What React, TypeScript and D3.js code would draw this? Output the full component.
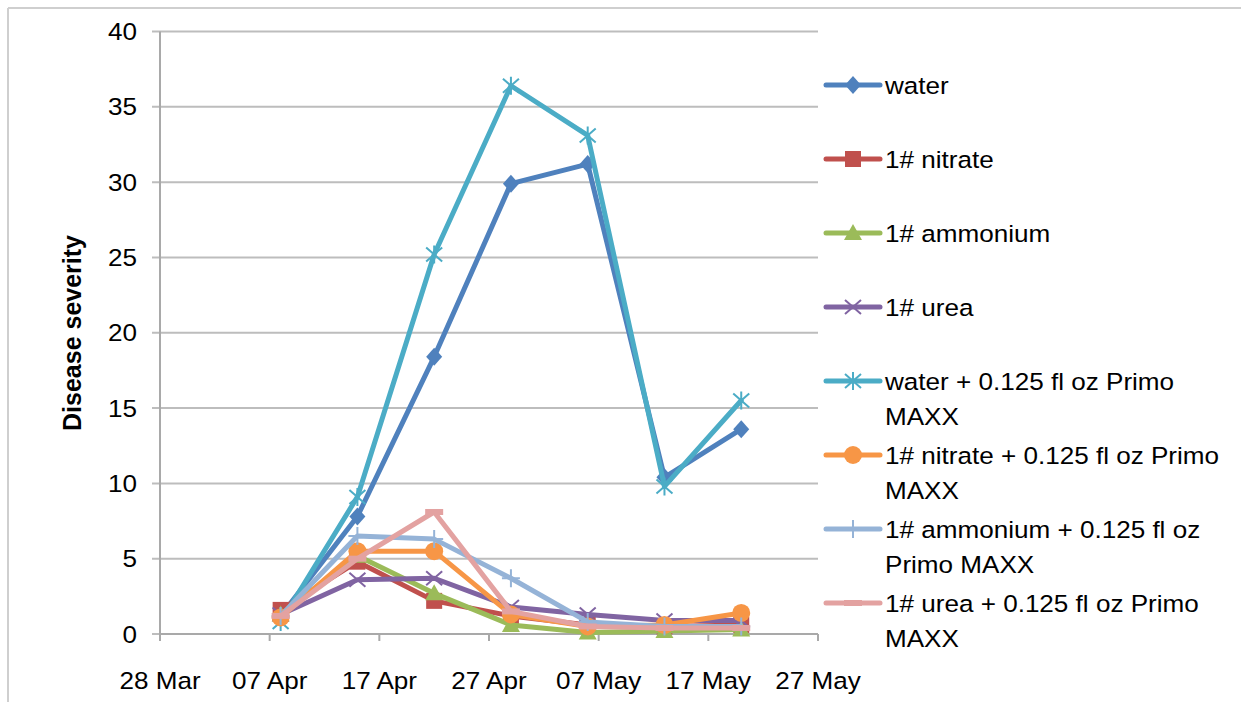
import React from "react";
import * as d3 from "d3";

const tickLabels = ["28 Mar", "07 Apr", "17 Apr", "27 Apr", "07 May", "17 May", "27 May"];
const tickDates = ["2013-03-28", "2013-04-07", "2013-04-17", "2013-04-27", "2013-05-07", "2013-05-17", "2013-05-27"];
const sampleDates = ["2013-04-08", "2013-04-15", "2013-04-22", "2013-04-29", "2013-05-06", "2013-05-13", "2013-05-20"];
const yTicks = [0, 5, 10, 15, 20, 25, 30, 35, 40];

const seriesNames = [
  "water",
  "1# nitrate",
  "1# ammonium",
  "1# urea",
  "water + 0.125 fl oz Primo MAXX",
  "1# nitrate + 0.125 fl oz Primo MAXX",
  "1# ammonium + 0.125 fl oz Primo MAXX",
  "1# urea + 0.125 fl oz Primo MAXX",
];
const legendLines = [
  ["water"],
  ["1# nitrate"],
  ["1# ammonium"],
  ["1# urea"],
  ["water + 0.125 fl oz Primo", "MAXX"],
  ["1# nitrate + 0.125 fl oz Primo", "MAXX"],
  ["1# ammonium + 0.125 fl oz", "Primo MAXX"],
  ["1# urea + 0.125 fl oz Primo", "MAXX"],
];
const water = [1.2, 7.8, 18.4, 29.9, 31.2, 10.4, 13.6];
const nitrate = [1.6, 4.8, 2.2, 1.2, 0.6, 0.5, 0.6];
const ammonium = [1.3, 5.2, 2.7, 0.6, 0.1, 0.2, 0.3];
const urea = [1.3, 3.6, 3.7, 1.8, 1.3, 0.9, 0.9];
const waterPrimo = [0.8, 9.1, 25.2, 36.4, 33.1, 9.8, 15.5];
const nitratePrimo = [1.1, 5.5, 5.5, 1.3, 0.5, 0.6, 1.4];
const ammoniumPrimo = [1.2, 6.5, 6.3, 3.7, 0.8, 0.5, 0.5];
const ureaPrimo = [1.2, 5.0, 8.1, 1.5, 0.5, 0.4, 0.4];
const seriesValues = [water, nitrate, ammonium, urea, waterPrimo, nitratePrimo, ammoniumPrimo, ureaPrimo];
const colors = ["#4F81BD", "#C0504D", "#9BBB59", "#8064A2", "#4BACC6", "#F79646", "#95B3D7", "#E3A2A1"];
const markers = ["diamond", "square", "triangle", "x", "star", "circle", "plus", "dash"];

const parse = d3.timeParse("%Y-%m-%d");
const FONT = "'Liberation Sans', Arial, Helvetica, sans-serif";
const FS = 23.5;
const SX = 1.11;

function Txt({ x, y, anchor = "start", children, size = FS, weight = "normal" }: any) {
  return (
    <text
      transform={`translate(${x},${y}) scale(${SX},1)`}
      textAnchor={anchor}
      fontFamily={FONT}
      fontSize={size}
      fontWeight={weight}
      fill="#000"
    >
      {children}
    </text>
  );
}

function Marker({ type, x, y, color }: any) {
  switch (type) {
    case "diamond":
      return <path d={`M${x},${y - 9}L${x + 8},${y}L${x},${y + 9}L${x - 8},${y}Z`} fill={color} />;
    case "square":
      return <rect x={x - 8} y={y - 8} width={16} height={16} fill={color} />;
    case "triangle":
      return <path d={`M${x},${y - 9}L${x + 9},${y + 7}L${x - 9},${y + 7}Z`} fill={color} />;
    case "x":
      return (
        <path d={`M${x - 8},${y - 7}L${x + 8},${y + 7}M${x - 8},${y + 7}L${x + 8},${y - 7}`} stroke={color} strokeWidth={2} fill="none" />
      );
    case "star":
      return (
        <path
          d={`M${x - 8},${y - 7}L${x + 8},${y + 7}M${x - 8},${y + 7}L${x + 8},${y - 7}M${x},${y - 9}L${x},${y + 9}`}
          stroke={color}
          strokeWidth={2}
          fill="none"
        />
      );
    case "circle":
      return <circle cx={x} cy={y} r={9} fill={color} />;
    case "plus":
      return <path d={`M${x - 9},${y}L${x + 9},${y}M${x},${y - 9}L${x},${y + 9}`} stroke={color} strokeWidth={2} fill="none" />;
    case "dash":
      return <rect x={x - 9} y={y - 3} width={18} height={6} fill={color} />;
    default:
      return null;
  }
}

export default function App() {
  const x = d3.scaleTime().domain([parse(tickDates[0])!, parse(tickDates[tickDates.length - 1])!]).range([160, 818]);
  const y = d3.scaleLinear().domain([0, 40]).range([634, 31.5]);
  const dates = sampleDates.map((d) => parse(d)!);
  const line = d3
    .line<number>()
    .x((_, i) => x(dates[i]))
    .y((v) => y(v));

  const legendX = 826;
  const legendY0 = 85;
  const legendStep = 74;

  return (
    <svg width={1241} height={702} style={{ position: "absolute", left: 0, top: 0, background: "#fff" }}>
      <rect x={0} y={0} width={1241} height={702} fill="#fff" />
      {/* chart frame */}
      <line x1={8} y1={8} x2={1241} y2={8} stroke="#cfcfcf" strokeWidth={2} />
      <line x1={8} y1={8} x2={8} y2={702} stroke="#cfcfcf" strokeWidth={2} />

      {/* gridlines */}
      {yTicks.map((t) => (
        <line key={`g${t}`} x1={152} x2={818} y1={y(t)} y2={y(t)} stroke="#bdbdbd" strokeWidth={2} />
      ))}
      {/* y axis */}
      <line x1={160} x2={160} y1={y(40)} y2={y(0)} stroke="#a9a9a9" strokeWidth={2} />
      {yTicks.map((t) => (
        <Txt key={`yl${t}`} x={137} y={y(t) + 8.5} anchor="end">
          {t}
        </Txt>
      ))}
      {/* x axis */}
      <line x1={160} x2={818} y1={y(0)} y2={y(0)} stroke="#a9a9a9" strokeWidth={2} />
      {tickDates.map((d, i) => {
        const xx = x(parse(d)!);
        return (
          <g key={`xt${i}`}>
            <line x1={xx} x2={xx} y1={y(0)} y2={y(0) + 7} stroke="#a9a9a9" strokeWidth={2} />
            <Txt x={xx} y={689} anchor="middle">
              {tickLabels[i]}
            </Txt>
          </g>
        );
      })}

      {/* y title */}
      <text
        transform={`translate(81,333) rotate(-90)`}
        textAnchor="middle"
        fontFamily={FONT}
        fontSize={25}
        fontWeight="bold"
        fill="#000"
      >
        Disease severity
      </text>

      {/* series */}
      {seriesValues.map((vals, si) => (
        <g key={`s${si}`}>
          <path d={line(vals) || ""} fill="none" stroke={colors[si]} strokeWidth={5} strokeLinejoin="round" strokeLinecap="round" />
          {vals.map((v, i) => (
            <Marker key={i} type={markers[si]} x={x(dates[i])} y={y(v)} color={colors[si]} />
          ))}
        </g>
      ))}

      {/* legend */}
      {seriesNames.map((name, si) => {
        const ly = legendY0 + si * legendStep;
        return (
          <g key={`lg${si}`}>
            <line x1={legendX} x2={legendX + 54} y1={ly} y2={ly} stroke={colors[si]} strokeWidth={5} strokeLinecap="round" />
            <Marker type={markers[si]} x={legendX + 27} y={ly} color={colors[si]} />
            {legendLines[si].map((t, li) => (
              <Txt key={li} x={885} y={ly + 8.5 + li * 35}>
                {t}
              </Txt>
            ))}
          </g>
        );
      })}
    </svg>
  );
}
